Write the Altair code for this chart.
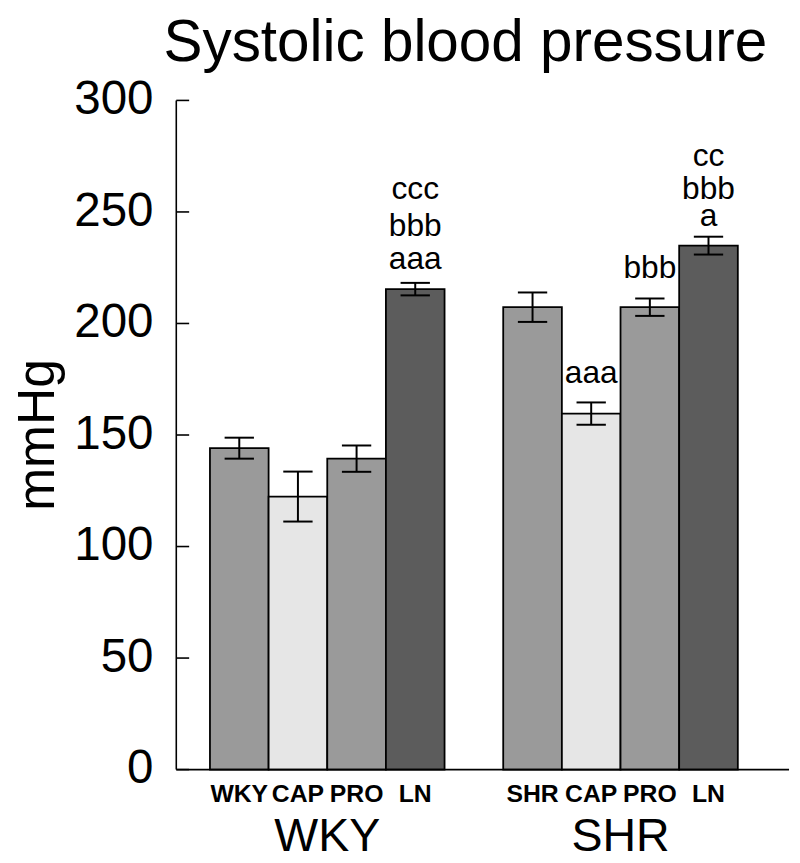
import altair as alt
import pandas as pd

# ---- data ----
bar_labels = ["WKY", "CAP", "PRO", "LN", "SHR", "CAP", "PRO", "LN"]
bar_group = ["WKY", "WKY", "WKY", "WKY", "SHR", "SHR", "SHR", "SHR"]
treatment = ["control", "CAP", "PRO", "LN", "control", "CAP", "PRO", "LN"]
means = [144.1, 122.4, 139.4, 215.4, 207.3, 159.6, 207.3, 234.9]
errors = [4.7, 11.2, 5.9, 2.8, 6.6, 5.0, 3.9, 4.0]

groups = ["WKY", "SHR"]

ann_bar = [3, 3, 3, 5, 6, 7, 7, 7]
ann_text = ["ccc", "bbb", "aaa", "aaa", "bbb", "cc", "bbb", "a"]
ann_y = [255.6, 239.2, 224.6, 173.1, 220.5, 270.7, 256.0, 243.6]

y_ticks = [0, 50, 100, 150, 200, 250, 300]

treat_domain = ["control", "CAP", "PRO", "LN"]
treat_colors = ["#9a9a9a", "#e6e6e6", "#9a9a9a", "#5c5c5c"]

FONT = "Liberation Sans"
W, H = 619, 676

# ---- build tables ----
slots = [i if i < 4 else i + 1 for i in range(len(means))]
cap_half = 0.25
bars = pd.DataFrame({
    "label": bar_labels,
    "group": bar_group,
    "treat": treatment,
    "mean": means,
    "lo": [m - e for m, e in zip(means, errors)],
    "hi": [m + e for m, e in zip(means, errors)],
    "x0": [s for s in slots],
    "x1": [s + 1 for s in slots],
    "xc": [s + 0.5 for s in slots],
    "cl": [s + 0.5 - cap_half for s in slots],
    "cr": [s + 0.5 + cap_half for s in slots],
})

ann = pd.DataFrame({
    "xc": [slots[b] + 0.5 for b in ann_bar],
    "text": ann_text,
    "y": ann_y,
})

grp = pd.DataFrame({
    "group": groups,
    "xc": [2.0, 7.0],
})

ticks_df = pd.DataFrame({"v": y_ticks, "lab": [str(t) for t in y_ticks]})
one = pd.DataFrame({"a": [0]})

xscale = alt.Scale(domain=[-0.574, 9.873], nice=False, zero=False)
yscale = alt.Scale(domain=[0, 300], nice=False)

base = alt.Chart(bars)

bar_layer = base.mark_bar(stroke="black", strokeWidth=1.8).encode(
    x=alt.X("x0:Q", scale=xscale, axis=None),
    x2="x1:Q",
    y=alt.Y("mean:Q", scale=yscale, axis=None),
    y2=alt.datum(0),
    color=alt.Color("treat:N", scale=alt.Scale(domain=treat_domain, range=treat_colors),
                    legend=None),
)

err_v = base.mark_rule(color="black", strokeWidth=2).encode(
    x=alt.X("xc:Q", scale=xscale, axis=None),
    y=alt.Y("lo:Q", scale=yscale, axis=None),
    y2="hi:Q",
)
cap_hi = base.mark_rule(color="black", strokeWidth=2).encode(
    x=alt.X("cl:Q", scale=xscale, axis=None),
    x2="cr:Q",
    y=alt.Y("hi:Q", scale=yscale, axis=None),
)
cap_lo = base.mark_rule(color="black", strokeWidth=2).encode(
    x=alt.X("cl:Q", scale=xscale, axis=None),
    x2="cr:Q",
    y=alt.Y("lo:Q", scale=yscale, axis=None),
)

# axis lines
y_domain = alt.Chart(one).mark_rule(color="black", strokeWidth=1.6).encode(
    x=alt.value(0), y=alt.value(0), y2=alt.value(H)
)
x_domain = alt.Chart(one).mark_rule(color="black", strokeWidth=1.6).encode(
    x=alt.value(0), x2=alt.value(W), y=alt.value(H)
)

inward_ticks = alt.Chart(ticks_df).mark_rule(color="black", strokeWidth=1.6).encode(
    y=alt.Y("v:Q", scale=yscale, axis=None),
    x=alt.value(0),
    x2=alt.value(13),
)

tick_labels = alt.Chart(ticks_df).mark_text(
    font=FONT, fontSize=48, color="black", align="right", baseline="middle"
).encode(
    y=alt.Y("v:Q", scale=yscale, axis=None),
    x=alt.value(-23),
    text="lab:N",
)

ann_layer = alt.Chart(ann).mark_text(
    font=FONT, fontSize=32, color="black", baseline="alphabetic", align="center"
).encode(
    x=alt.X("xc:Q", scale=xscale, axis=None),
    y=alt.Y("y:Q", scale=yscale, axis=None),
    text="text:N",
)

bar_lab = base.mark_text(
    font=FONT, fontSize=25, fontWeight="bold", color="black",
    baseline="alphabetic", align="center"
).encode(
    x=alt.X("xc:Q", scale=xscale, axis=None),
    y=alt.value(709),
    text="label:N",
)

grp_lab = alt.Chart(grp).mark_text(
    font=FONT, fontSize=47, color="black", baseline="alphabetic", align="center"
).encode(
    x=alt.X("xc:Q", scale=xscale, axis=None),
    y=alt.value(758),
    text="group:N",
)

title_layer = alt.Chart(one).mark_text(
    font=FONT, fontSize=59, color="black", baseline="alphabetic", align="center",
    text="Systolic blood pressure"
).encode(x=alt.value(292), y=alt.value(-40))

ylab_layer = alt.Chart(one).mark_text(
    font=FONT, fontSize=52, color="black", baseline="alphabetic", align="center",
    angle=270, text="mmHg"
).encode(x=alt.value(-124), y=alt.value(338))

chart = alt.layer(
    bar_layer, err_v, cap_hi, cap_lo, y_domain, x_domain, inward_ticks, tick_labels,
    ann_layer, bar_lab, grp_lab, title_layer, ylab_layer
).properties(
    width=W,
    height=H,
    autosize=alt.AutoSizeParams(type="none"),
    padding={"left": 170, "top": 89, "right": 3, "bottom": 90},
    background="white",
).configure_view(stroke=None)

chart.save("out.html", embed_options={"renderer": "svg", "actions": False})
